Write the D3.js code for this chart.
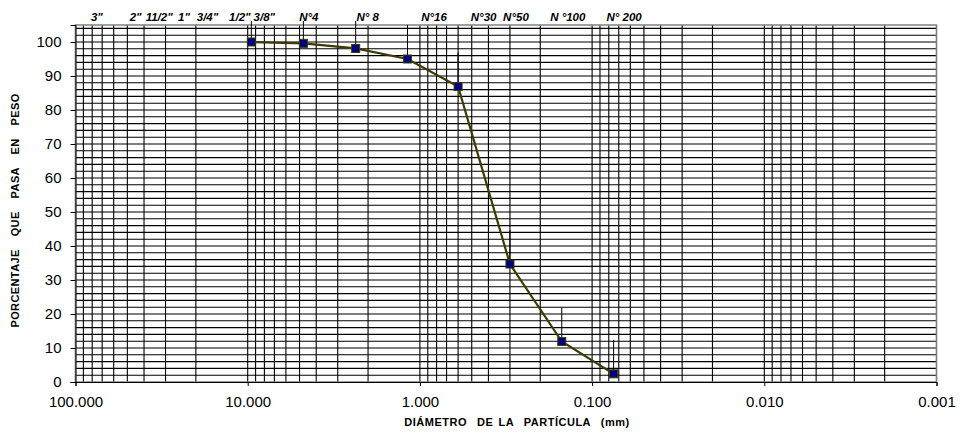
<!DOCTYPE html>
<html>
<head>
<meta charset="utf-8">
<script src="https://cdn.jsdelivr.net/npm/d3@7/dist/d3.min.js"></script>
<style>
  html, body { margin: 0; padding: 0; background: #fff; }
  svg { display: block; font-family: Arial, "Liberation Sans", sans-serif; }
</style>
</head>
<body>
<svg id="chart" width="960" height="434"></svg>
<script>
// Sieve series: opening (mm) and percent passing
const sieveNames   = ["3/8\"", "N°4", "N° 8", "N°16", "N°30", "N°50", "N °100", "N° 200"];
const sieveOpening = [9.525, 4.75, 2.36, 1.18, 0.6, 0.3, 0.15, 0.075];
const percentPass  = [100, 99.6, 98.1, 95.0, 86.9, 34.7, 11.9, 2.4];
const errorPlus    = 10;

// Reference sieve labels along the top
const topLabels    = ["3\"", "2\"", "11/2\"", "1\"", "3/4\"", "1/2\"", "3/8\"", "N°4", "N° 8", "N°16", "N°30", "N°50", "N °100", "N° 200"];
const topOpenings  = [76.2, 50.8, 38.1, 25.4, 19.05, 12.7, 9.525, 4.75, 2.36, 1.18, 0.6, 0.3, 0.15, 0.075];

// Axis ticks
const xTicks = [100, 10, 1, 0.1, 0.01, 0.001];
const yTicks = [0, 10, 20, 30, 40, 50, 60, 70, 80, 90, 100];

// Layout
const plotL = 75.5, plotR = 936.5, plotT = 25, plotB = 382;
// horizontal nudges for the top labels (text boxes sit right of their sieve)
const labelNudge = [1, 9.5, 11.5, 6, 8, 10, 13, 5.5, 12, 26.5, 25.5, 6, 6, 10.5];

const svg = d3.select("#chart");
const x = d3.scaleLog().domain([100, 0.001]).range([plotL, plotR]);
const y = d3.scaleLinear().domain([0, 105]).range([plotB, plotT]);

// Vertical log grid: 1..9 within each decade
const vGrid = [];
for (let e = -3; e <= 1; e++) {
  for (let m = 1; m <= 9; m++) vGrid.push(m * Math.pow(10, e));
}
vGrid.push(100);

const grid = svg.append("g");
grid.selectAll("line.v").data(vGrid).join("line").attr("class", "v")
  .attr("x1", d => x(d)).attr("x2", d => x(d))
  .attr("y1", plotT).attr("y2", plotB)
  .attr("stroke", "#000").attr("stroke-width", 1.1);

// Horizontal grid every 2 %
const hGrid = d3.range(2, 105, 2);
grid.selectAll("line.h").data(hGrid).join("line").attr("class", "h")
  .attr("x1", plotL).attr("x2", plotR)
  .attr("y1", d => y(d)).attr("y2", d => y(d))
  .attr("stroke", "#000").attr("stroke-width", 1.1);

// Plot frame
svg.append("rect")
  .attr("x", plotL).attr("y", plotT)
  .attr("width", plotR - plotL).attr("height", plotB - plotT)
  .attr("fill", "none").attr("stroke", "#808080").attr("stroke-width", 1.5);

// Y axis
const yAxis = svg.append("g").attr("transform", `translate(${plotL},0)`)
  .call(d3.axisLeft(y).tickValues(yTicks).tickSize(5).tickPadding(9).tickFormat(d3.format("d")));
yAxis.select(".domain").attr("stroke", "#000");
yAxis.selectAll("text").attr("font-size", 15).attr("fill", "#000")
  .attr("font-family", "Arial, 'Liberation Sans', sans-serif");

// X axis
const xAxis = svg.append("g").attr("transform", `translate(0,${plotB})`)
  .call(d3.axisBottom(x).tickValues(xTicks).tickSize(4).tickPadding(10).tickFormat(d3.format(".3f")));
xAxis.select(".domain").attr("stroke", "#000");
xAxis.selectAll("text").attr("font-size", 15).attr("fill", "#000")
  .attr("font-family", "Arial, 'Liberation Sans', sans-serif");

// Error bars (plus direction)
svg.append("defs").append("clipPath").attr("id", "errClip")
  .append("rect").attr("x", plotL).attr("y", 21).attr("width", plotR - plotL).attr("height", plotB - 21);
svg.append("g").attr("clip-path", "url(#errClip)")
  .selectAll("line").data(sieveOpening).join("line")
  .attr("x1", d => x(d)).attr("x2", d => x(d))
  .attr("y1", (d, i) => y(percentPass[i]))
  .attr("y2", (d, i) => y(percentPass[i] + errorPlus))
  .attr("stroke", "#000").attr("stroke-width", 1);

// Grading curve
const pts = sieveOpening.map((d, i) => [d, percentPass[i]]);
svg.append("path")
  .datum(pts)
  .attr("d", d3.line().x(d => x(d[0])).y(d => y(d[1])))
  .attr("fill", "none").attr("stroke", "#3d3a00").attr("stroke-width", 2.2);

svg.append("g").selectAll("rect").data(pts).join("rect")
  .attr("x", d => x(d[0]) - 4).attr("y", d => y(d[1]) - 4)
  .attr("width", 8).attr("height", 8)
  .attr("fill", "#000080").attr("stroke", "#3d3a00").attr("stroke-width", 1);

// Sieve labels on top
svg.append("g").selectAll("text").data(topLabels).join("text")
  .attr("x", (d, i) => x(topOpenings[i]) + labelNudge[i])
  .attr("y", 20.5)
  .attr("text-anchor", "middle")
  .attr("font-size", 11.5).attr("font-weight", "bold").attr("font-style", "italic")
  .text(d => d);

// Axis titles
svg.append("text")
  .attr("x", 517).attr("y", 426)
  .attr("text-anchor", "middle")
  .attr("font-size", 11).attr("font-weight", "bold")
  .attr("letter-spacing", 0.5).attr("word-spacing", 1.5)
  .attr("xml:space", "preserve")
  .text("DIÁMETRO  DE LA  PARTÍCULA  (mm)");

svg.append("text")
  .attr("transform", "translate(19,210.5) rotate(-90)")
  .attr("text-anchor", "middle")
  .attr("font-size", 11).attr("font-weight", "bold")
  .attr("letter-spacing", 0.4).attr("word-spacing", 3)
  .attr("xml:space", "preserve")
  .text("PORCENTAJE  QUE  PASA  EN  PESO");
</script>
</body>
</html>
